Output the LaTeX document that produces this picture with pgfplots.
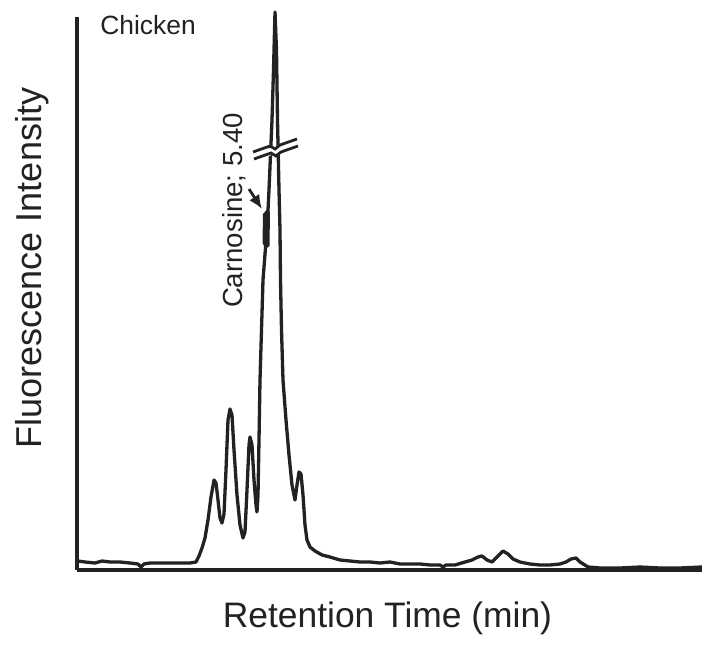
\documentclass[border=0pt]{standalone}
\usepackage{fontspec}
\setmainfont{Liberation Sans}
\usepackage{pgfplots}
\pgfplotsset{compat=1.18}
\usetikzlibrary{arrows.meta}

\definecolor{ink}{HTML}{222222}

\begin{document}
\begin{tikzpicture}
\useasboundingbox (0,0) rectangle (351pt,322pt);
\begin{axis}[
  at={(38.5pt,37pt)}, anchor=south west,
  scale only axis,
  width=312.5pt, height=276.5pt,
  xmin=77, xmax=702, ymin=0, ymax=553,
  axis x line=bottom, axis y line=left,
  axis line style={-, line width=1.7pt, ink},
  xtick=\empty, ytick=\empty,
  clip=false,
]
% chromatogram trace (retention position, detector response)
\addplot[ink, line width=1.65pt, line join=round, mark=none] coordinates {
(78,9) (85,8) (95,7) (102,9) (110,8) (120,8) (130,7) (138,6) (141,3) (144,6)
(150,7) (160,7) (170,7) (180,7) (190,7) (196,8) (199,14) (202,22) (205,32)
(208,50) (211,73) (214,90) (216,87) (218,70) (220,52) (222,47) (224,56)
(226,100) (228,150) (230,161) (232,155) (234,120) (237,75) (240,45) (243,32)
(245,38) (247,80) (249,125) (250,133) (252,125) (254,90) (256,65) (257,58)
(258,75) (259,130) (260,190) (261.5,240) (263,290) (265,316) (267,340)
(269,380) (271,427) (272,450) (273.5,500) (275,558) (276.5,520) (277.5,450)
(278,427) (279,380) (280,340) (280.5,290) (281.5,240) (283,190) (286,150)
(289,115) (292,85) (295,70) (297,85) (299,98) (301,96) (303,75) (305,45)
(307,30) (310,23) (315,19) (322,15) (330,13) (340,10) (350,9) (360,8)
(370,8) (380,7) (390,8) (400,6) (410,6) (420,6) (430,5) (440,5) (443,3)
(446,5) (455,5) (465,8) (472,10) (478,13) (482,14) (487,10) (492,8) (497,13)
(503,19) (508,16) (513,11) (520,8) (530,6) (540,5) (550,5) (560,6) (566,8)
(571,11) (576,12) (580,8) (588,3) (600,2) (620,2) (640,3) (660,2) (680,2)
(702,3)
};
% shaded carnosine segment on the leading edge
\addplot[fill=ink, draw=none] coordinates {
(262.5,327) (263,356) (266.5,360) (270,358) (269.5,324) (265.5,321)
} -- cycle;
% axis break across the main peak
\fill[white] (axis cs:253,416) -- (axis cs:297,431) -- (axis cs:298,424) -- (axis cs:254,409) -- cycle;
\draw[ink, line width=1.4pt] (axis cs:253,418) -- (axis cs:270,424) -- (axis cs:275,421) -- (axis cs:280,425) -- (axis cs:297,431);
\draw[ink, line width=1.4pt] (axis cs:254,411) -- (axis cs:271,417) -- (axis cs:276,414) -- (axis cs:281,418) -- (axis cs:298,424);
% pointer to the carnosine peak
\draw[ink, line width=1.4pt, -{Latex[length=7pt,width=6pt]}] (axis cs:249,381) -- (axis cs:262,361);
\node[ink, anchor=base, rotate=90, font=\fontsize{13.8}{16}\selectfont, inner sep=0pt] at (axis cs:242,359.5) {Carnosine; 5.40};
\node[ink, anchor=base west, font=\fontsize{13.2}{16}\selectfont, inner sep=0pt] at (axis cs:100,535) {Chicken};
\node[ink, anchor=base, font=\fontsize{17.7}{20}\selectfont, inner sep=0pt] at (axis cs:387.5,-57) {Retention Time (min)};
\node[ink, anchor=base, rotate=90, font=\fontsize{18}{20}\selectfont, inner sep=0pt] at (axis cs:42,302) {Fluorescence Intensity};
\end{axis}
\end{tikzpicture}
\end{document}
